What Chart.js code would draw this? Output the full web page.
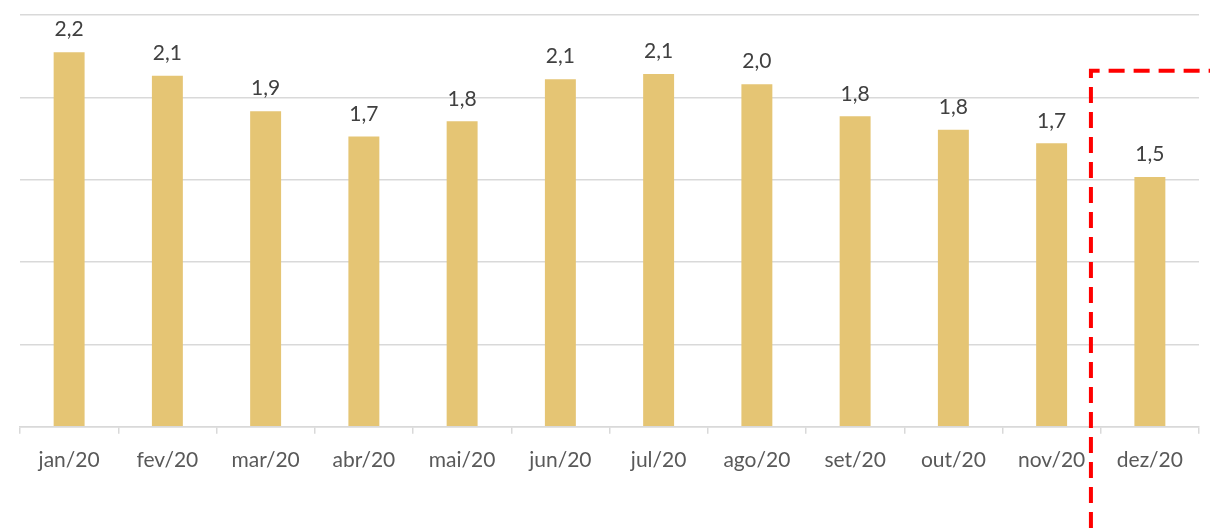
<!DOCTYPE html>
<html>
<head>
<meta charset="utf-8">
<script src="https://cdn.jsdelivr.net/npm/chart.js@4"></script>
<style>
  html, body { margin: 0; padding: 0; background: #fff; }
  #wrap { width: 1210px; height: 528px; }
</style>
</head>
<body>
<div id="wrap"><canvas id="chart"></canvas></div>
<script>
const months = ["jan/20", "fev/20", "mar/20", "abr/20", "mai/20", "jun/20",
                "jul/20", "ago/20", "set/20", "out/20", "nov/20", "dez/20"];
const values = [2.22, 2.08, 1.87, 1.72, 1.81, 2.06, 2.09, 2.03, 1.84, 1.76, 1.68, 1.48];
const axisMax = 2.44;
const gridSteps = 5;

const fmt = v => v.toFixed(1).replace(".", ",");

// value labels above each bar
const barLabels = {
  id: "barLabels",
  afterDatasetsDraw(chart) {
    const ctx = chart.ctx;
    const meta = chart.getDatasetMeta(0);
    ctx.save();
    ctx.font = "21px Lato, 'Open Sans', sans-serif";
    ctx.fillStyle = "#404040";
    ctx.textAlign = "center";
    ctx.textBaseline = "bottom";
    meta.data.forEach((bar, i) => {
      ctx.fillText(fmt(values[i]), bar.x, bar.y - 12);
    });
    ctx.restore();
  }
};

// dashed red frame around the last month
const frame = {
  id: "frame",
  afterDraw(chart) {
    const ctx = chart.ctx;
    const x = chart.scales.x.getPixelForValue(10.4);
    const y = chart.scales.y.getPixelForValue(2.11);
    ctx.save();
    ctx.strokeStyle = "#ff0000";
    ctx.lineWidth = 4;
    ctx.setLineDash([16, 9]);
    ctx.beginPath();
    ctx.moveTo(x, chart.height);
    ctx.lineTo(x, y);
    ctx.lineTo(chart.width, y);
    ctx.stroke();
    ctx.restore();
  }
};

new Chart(document.getElementById("chart"), {
  type: "bar",
  data: {
    labels: months,
    datasets: [{
      data: values,
      backgroundColor: "#e5c574",
      barPercentage: 0.63,
      categoryPercentage: 0.5
    }]
  },
  options: {
    responsive: true,
    maintainAspectRatio: false,
    animation: false,
    layout: { padding: { left: 20, right: 11, top: 15, bottom: 41 } },
    plugins: { legend: { display: false }, tooltip: { enabled: false } },
    scales: {
      x: {
        offset: true,
        grid: {
          offset: true,
          drawOnChartArea: false,
          color: "#d9d9d9",
          lineWidth: 1.5,
          tickLength: 7
        },
        border: { color: "#d9d9d9", width: 1.5 },
        ticks: {
          color: "#595959",
          font: { family: "Lato, 'Open Sans', sans-serif", size: 21 },
          padding: 14,
          maxRotation: 0
        }
      },
      y: {
        min: 0,
        max: axisMax,
        afterBuildTicks(scale) {
          scale.ticks = [];
          for (let i = 0; i <= gridSteps; i++) scale.ticks.push({ value: axisMax * i / gridSteps });
        },
        grid: { color: "#d9d9d9", lineWidth: 1.4, drawTicks: false },
        border: { display: false },
        ticks: { display: false }
      }
    }
  },
  plugins: [barLabels, frame]
});
</script>
</body>
</html>
